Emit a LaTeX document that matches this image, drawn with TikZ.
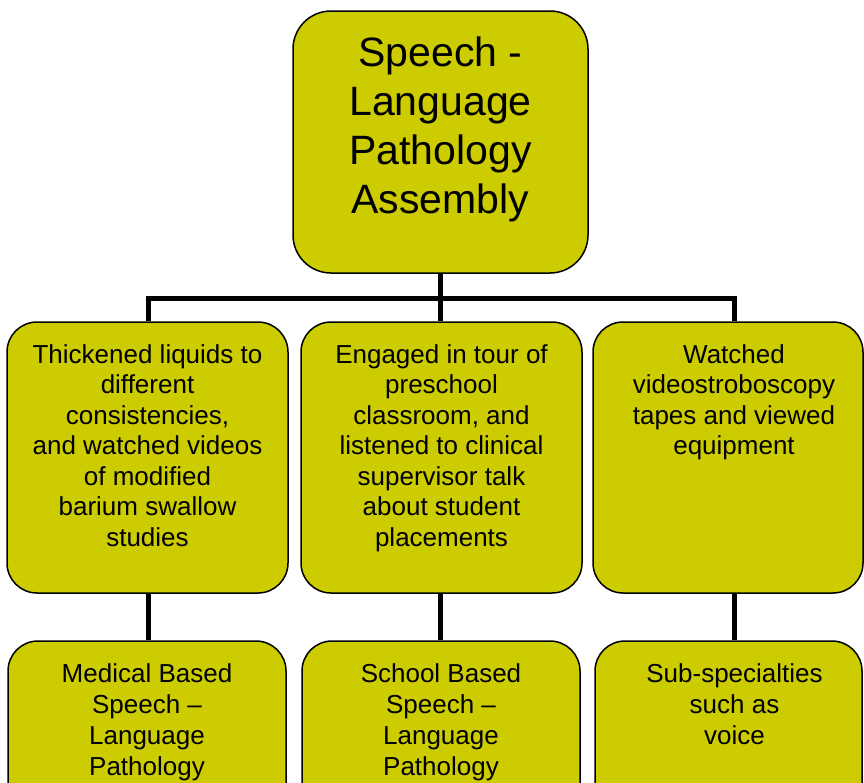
\documentclass[tikz,border=0pt]{standalone}
\usepackage{fontspec}
\setmainfont{Liberation Sans}
\usetikzlibrary{positioning}

\definecolor{olivebox}{RGB}{204,204,0}

\tikzset{
	box/.style={draw, fill=olivebox, line width=1.5pt, rounded corners=30pt, inner sep=0pt},
	boxtext/.style={align=center, inner sep=0pt, font=\fontsize{26}{30.5}\selectfont},
	link/.style={line width=5pt}
}

\begin{document}
\begin{tikzpicture}[x=1pt, y=-1pt]
	\useasboundingbox (0,0) rectangle (864,782);
	\clip (0,0) rectangle (864,782);

	% top
	\node at (440.5,142) [box, rounded corners=38pt, minimum width=295pt, minimum height=262pt] (slp) {};
	\node [below=26pt of slp.north, boxtext, font=\fontsize{41}{49}\selectfont] (slptext)
		{Speech -\\Language\\Pathology\\Assembly};

	% middle row
	\node at (147.5,457.5) [box, minimum width=281pt, minimum height=271pt] (thick) {};
	\node at (441.5,457.5) [box, minimum width=281pt, minimum height=271pt] (tour) {};
	\node at (728,457.5) [box, minimum width=270pt, minimum height=271pt] (watch) {};

	\node [below=23pt of thick.north, boxtext] (thicktext)
		{Thickened liquids to\\different\\consistencies,\\and watched videos\\of modified\\barium swallow\\studies};
	\node [below=23pt of tour.north, boxtext] (tourtext)
		{Engaged in tour of\\preschool\\classroom, and\\listened to clinical\\supervisor talk\\about student\\placements};
	\node [below=23pt of watch.north, xshift=6pt, boxtext] (watchtext)
		{Watched\\videostroboscopy\\tapes and viewed\\equipment};

	% bottom row
	\node at (147,741) [box, minimum width=278pt, minimum height=200pt] (med) {};
	\node at (441,741) [box, minimum width=278pt, minimum height=200pt] (school) {};
	\node at (728.5,741) [box, minimum width=267pt, minimum height=200pt] (sub) {};

	\node [below=23pt of med.north, boxtext, font=\fontsize{26}{31}\selectfont] (medtext)
		{Medical Based\\Speech –\\Language\\Pathology};
	\node [below=23pt of school.north, boxtext, font=\fontsize{26}{31}\selectfont] (schooltext)
		{School Based\\Speech –\\Language\\Pathology};
	\node [below=23pt of sub.north, xshift=6pt, boxtext, font=\fontsize{26}{31}\selectfont] (subtext)
		{Sub-specialties\\such as\\voice};

	% connectors
	\coordinate (busL) at (148,298);
	\coordinate (busR) at (734,298);

	\draw
		[link] (slp.south) -- (slp.south |- busL);
	\draw
		[link] (busL |- thick.north) -- (busL) -- (busR) -- (busR |- watch.north);
	\draw
		[link] (tour.north -| slp.south) -- (slp.south |- busL);

	\draw
		[link] (busL |- thick.south) -- (busL |- med.north);
	\draw
		[link] (tour.south -| slp.south) -- (school.north -| slp.south);
	\draw
		[link] (busR |- watch.south) -- (busR |- sub.north);
\end{tikzpicture}
\end{document}
